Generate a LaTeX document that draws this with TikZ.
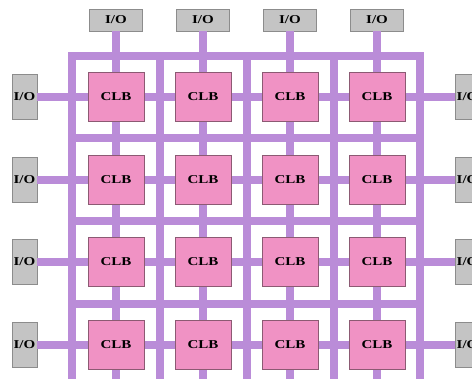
\documentclass[tikz,border=0pt]{standalone}
\usepackage{fontspec}
\setmainfont{Liberation Serif}[BoldFont={Liberation Serif Bold}]
\definecolor{wirec}{RGB}{186,140,216}
\definecolor{clbfill}{RGB}{240,146,196}
\definecolor{clbline}{RGB}{140,90,115}
\definecolor{iofill}{RGB}{196,196,196}
\definecolor{ioline}{RGB}{140,140,140}
\newcommand{\lbltext}[1]{\scalebox{1.25}[1]{\bfseries #1}}
\begin{document}
\begin{tikzpicture}[x=1pt,y=-1pt,
  wire/.style={draw=wirec, line width=8.5pt},
  gridw/.style={draw=wirec, line width=8.5pt, line cap=rect},
  lbl/.style={font=\fontsize{12}{14}\selectfont\bfseries, text=black},
  clb/.style={lbl, draw=clbline, fill=clbfill, minimum width=56pt, minimum height=49pt, inner sep=0pt},
  iotop/.style={lbl, draw=ioline, fill=iofill, minimum width=53pt, minimum height=22pt, inner sep=0pt},
  ioside/.style={lbl, draw=ioline, fill=iofill, minimum width=25pt, minimum height=45pt, inner sep=0pt}]
\useasboundingbox (0,0) rectangle (472,379);
\clip (0,0) rectangle (472,379);
\foreach \i/\x in {1/116,2/203,3/290,4/377} {
  \coordinate (bot\i) at (\x,395);
}
% routing grid
\foreach \k/\x in {1/72,2/160,3/247,4/334,5/420} {
  \coordinate (gvt\k) at (\x,56);
  \coordinate (gvb\k) at (\x,395);
  \draw[gridw] (gvt\k) -- (gvb\k);
}
\foreach \k/\y in {1/56,2/138,3/221,4/304} {
  \coordinate (ghl\k) at (72,\y);
  \coordinate (ghr\k) at (420,\y);
  \draw[gridw] (ghl\k) -- (ghr\k);
}
% pads
\foreach \i/\x in {1/116,2/203,3/290,4/377} {
  \node[iotop] (iot\i) at (\x,20) {\lbltext{I/O}};
}
\foreach \j/\y in {1/97,2/180,3/262,4/345} {
  \node[ioside] (iol\j) at (24.5,\y) {\lbltext{I/O}};
  \node[ioside] (ior\j) at (467.5,\y) {\lbltext{I/O}};
}
% pad connections
\foreach \i in {1,...,4} {
  \draw[wire] (iot\i.south) -- (bot\i);
  \draw[wire] (iol\i.east) -- (ior\i.west);
}
% CLBs
\foreach \i/\x in {1/116,2/203,3/290,4/377} {
  \foreach \j/\y in {1/97,2/180,3/262,4/345} {
    \node[clb] (clb\i\j) at (\x,\y) {\lbltext{CLB}};
  }
}
\end{tikzpicture}
\end{document}
